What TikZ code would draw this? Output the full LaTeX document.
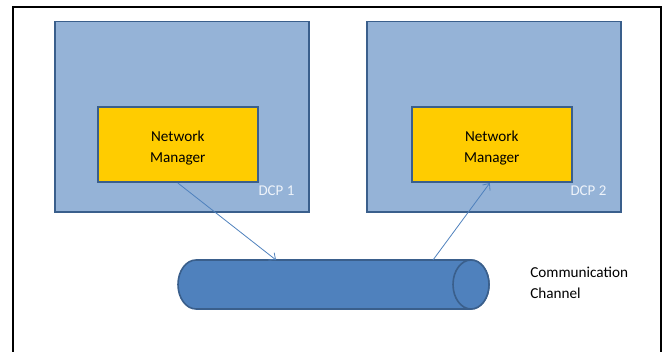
\documentclass[tikz,border=0pt]{standalone}
\usepackage{fontspec}
\setmainfont{Carlito}
\usetikzlibrary{calc,arrows.meta}
\definecolor{dcpfill}{HTML}{95B3D7}
\definecolor{edgeblue}{HTML}{3A5F8C}
\definecolor{nmfill}{HTML}{FFCC00}
\definecolor{chanfill}{HTML}{4F81BD}
\definecolor{dcptext}{HTML}{EEF3FA}
\tikzset{
  dcpbox/.style={draw=edgeblue, fill=dcpfill, line width=1.2pt, inner sep=0pt},
  nmbox/.style={draw=edgeblue, fill=nmfill, line width=1.2pt, inner sep=0pt},
  nmtext/.style={align=center, inner sep=0pt, font=\fontsize{11.4}{15.8}\selectfont},
  dcplabel/.style={text=dcptext, inner sep=0pt, font=\fontsize{11.2}{14}\selectfont},
  chanbody/.style={draw=edgeblue, fill=chanfill, line width=1.2pt},
  link/.style={draw=chanfill, line width=0.6pt, -{Straight Barb[length=4pt,width=7pt]}},
}
\begin{document}
\begin{tikzpicture}[x=0.75pt,y=0.75pt]
\useasboundingbox (0,0) rectangle (667,352);
% page frame, open at the bottom
\draw[line width=2pt] (13,-5) -- (13,345) -- (661,345) -- (661,-5);

% the two DCP containers
\node[dcpbox, minimum width=254*0.75pt, minimum height=190.5*0.75pt, anchor=south west] (dcp1) at (54,139) {};
\node[dcpbox, minimum width=254*0.75pt, minimum height=190.5*0.75pt, anchor=south west] (dcp2) at (366,139) {};
\node[dcplabel, anchor=base east] (l1) at ($(dcp1.south east)+(-15,17)$) {DCP 1};
\node[dcplabel, anchor=base east] (l2) at ($(dcp2.south east)+(-15,17)$) {DCP 2};

% network managers
\node[nmbox, minimum width=160*0.75pt, minimum height=75*0.75pt, anchor=south west] (nm1) at (97,169) {};
\node[nmbox, minimum width=160*0.75pt, minimum height=75*0.75pt, anchor=south west] (nm2) at (411,169) {};
\node[nmtext] (t1) at ($(nm1.center)+(0,-3)$) {Network\\Manager};
\node[nmtext] (t2) at ($(nm2.center)+(0,-3)$) {Network\\Manager};

% communication channel (horizontal cylinder)
\coordinate (chan) at (333.5,67.5);
\draw[chanbody] (196,92) -- (471,92)
  arc[start angle=90, end angle=-90, x radius=18*0.75pt, y radius=24.5*0.75pt]
  -- (196,43)
  arc[start angle=270, end angle=90, x radius=18*0.75pt, y radius=24.5*0.75pt] -- cycle;
\draw[chanbody] (471,67.5) ellipse[x radius=18*0.75pt, y radius=24.5*0.75pt];
\coordinate (in1) at ($(chan)+(-57.5,24.5)$);
\coordinate (out2) at ($(chan)+(99.5,24.5)$);
\node[anchor=west, align=left, inner sep=0pt, font=\fontsize{11.4}{15.5}\selectfont] (cc) at (530,69) {Communication\\Channel};

% links
\draw[link] (nm1.south) -- (in1);
\draw[link] (out2) -- ($(nm2.south)+(-2,0)$);
\end{tikzpicture}
\end{document}
